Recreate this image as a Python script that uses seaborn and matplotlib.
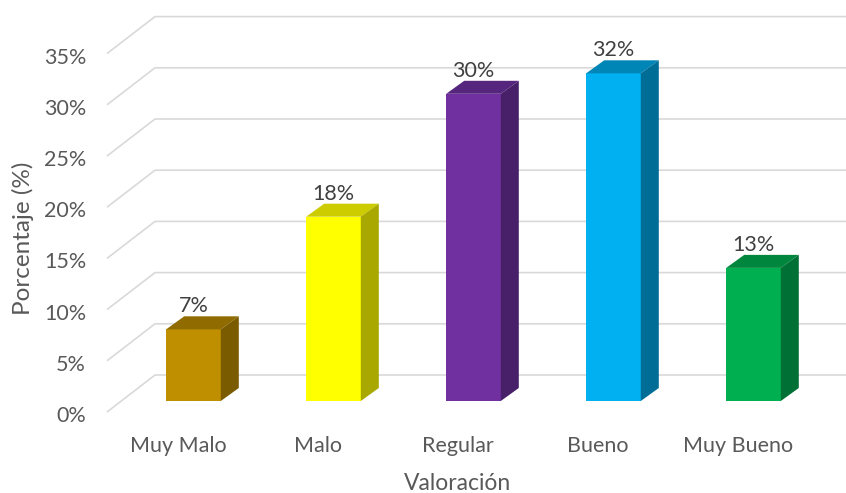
import matplotlib
matplotlib.use("Agg")
import matplotlib.pyplot as plt
from matplotlib.patches import Polygon
from matplotlib.transforms import IdentityTransform, ScaledTranslation
import numpy as np
import pandas as pd
import seaborn as sns

# --- data ---------------------------------------------------------------
categorias = ["Muy Malo", "Malo", "Regular", "Bueno", "Muy Bueno"]
porcentajes = [7, 18, 30, 32, 13]
ticks_y = [0, 5, 10, 15, 20, 25, 30, 35]
etiquetas_y = [f"{v}%" for v in ticks_y]

# front / top / side shades of each bar
color_frente = ["#BF8F00", "#FFFF00", "#7030A0", "#00B0F0", "#00B050"]
color_tapa = ["#8F6B00", "#CCCC00", "#56257D", "#0086B6", "#00863D"]
color_lado = ["#7A5B00", "#A8A800", "#481F69", "#006D96", "#007034"]

df = pd.DataFrame({"Valoración": categorias, "Porcentaje": porcentajes})

# --- style --------------------------------------------------------------
sns.set_theme(style="white")
plt.rcParams["font.family"] = ["Lato", "DejaVu Sans"]
TXT = "#595959"
GRID = "#D9D9D9"

W, H, DPI = 846, 493, 100
fig = plt.figure(figsize=(W / DPI, H / DPI), dpi=DPI)
fig.patch.set_facecolor("white")

# plot area in pixels (left, right, top, bottom)
L, R, T, B = 100, 840, 17, 412
ax = fig.add_axes([L / W, (H - B) / H, (R - L) / W, (B - T) / H])

sns.barplot(data=df, x="Valoración", y="Porcentaje", hue="Valoración",
            palette=color_frente, saturation=1, width=0.39, legend=False,
            ax=ax, zorder=3, linewidth=0)

# scale: 140 px per category, 10.24 px per percentage point
x0_px, y0_px, px_cat, px_pct = 193.5, 401, 140.0, 10.24
ax.set_xlim((L - x0_px) / px_cat, (R - x0_px) / px_cat)
ax.set_ylim(-(B - y0_px) / px_pct, (y0_px - T) / px_pct)
for s in ax.spines.values():
    s.set_visible(False)
ax.grid(False)

# --- walls: slanted floor/side grid lines --------------------------------
front_dy, back_dy = -11, 26          # px relative to the bar plane
front_x, back_x, end_x = 107, 155, 846
for v in ticks_y:
    yb = ax.transData.transform((0, v))[1]
    ax.plot([front_x, back_x, end_x],
            [yb + front_dy, yb + back_dy, yb + back_dy],
            transform=IdentityTransform(), color=GRID, lw=1.2,
            clip_on=False, zorder=1, solid_capstyle="butt")

# --- 3D faces of the bars ----------------------------------------------
dx, dy = 18, 13
for patch, c_top, c_side in zip(ax.patches, color_tapa, color_lado):
    x, w, h = patch.get_x(), patch.get_width(), patch.get_height()
    (xl, yt), (xr, yb) = ax.transData.transform([(x, h), (x + w, 0)])
    top = [(xl, yt), (xr, yt), (xr + dx, yt + dy), (xl + dx, yt + dy)]
    side = [(xr, yb), (xr, yt), (xr + dx, yt + dy), (xr + dx, yb + dy)]
    ax.add_patch(Polygon(top, closed=True, transform=IdentityTransform(),
                         facecolor=c_top, edgecolor="none", zorder=3))
    ax.add_patch(Polygon(side, closed=True, transform=IdentityTransform(),
                         facecolor=c_side, edgecolor="none", zorder=3))
    ax.annotate(f"{h:g}%", (x + w / 2, h), xytext=(0, 23 * 72 / DPI),
                textcoords="offset points", ha="center", va="center",
                fontsize=15.5, color="#404040", zorder=4)

# --- axes text ----------------------------------------------------------
ax.set_yticks(ticks_y)
ax.set_yticklabels(etiquetas_y)
ax.tick_params(axis="y", length=0, pad=10, labelsize=15.5, labelcolor=TXT)
ax.tick_params(axis="x", length=0, pad=17, labelsize=15.5, labelcolor=TXT)
for lbl in ax.get_yticklabels():
    lbl.set_transform(lbl.get_transform()
                      + ScaledTranslation(0, -13 / DPI, fig.dpi_scale_trans))
for lbl in ax.get_xticklabels():
    lbl.set_transform(lbl.get_transform()
                      + ScaledTranslation(-15.5 / DPI, 0, fig.dpi_scale_trans))

ax.set_xlabel("Valoración", fontsize=16.5, color=TXT, va="center")
ax.xaxis.set_label_coords((458 - L) / (R - L), (B - 483) / (B - T))
ax.set_ylabel("Porcentaje (%)", fontsize=17.5, color=TXT, va="center")
ax.yaxis.set_label_coords((23 - L) / (R - L), (B - 238) / (B - T))

fig.savefig("out.png", dpi=DPI, facecolor="white")
